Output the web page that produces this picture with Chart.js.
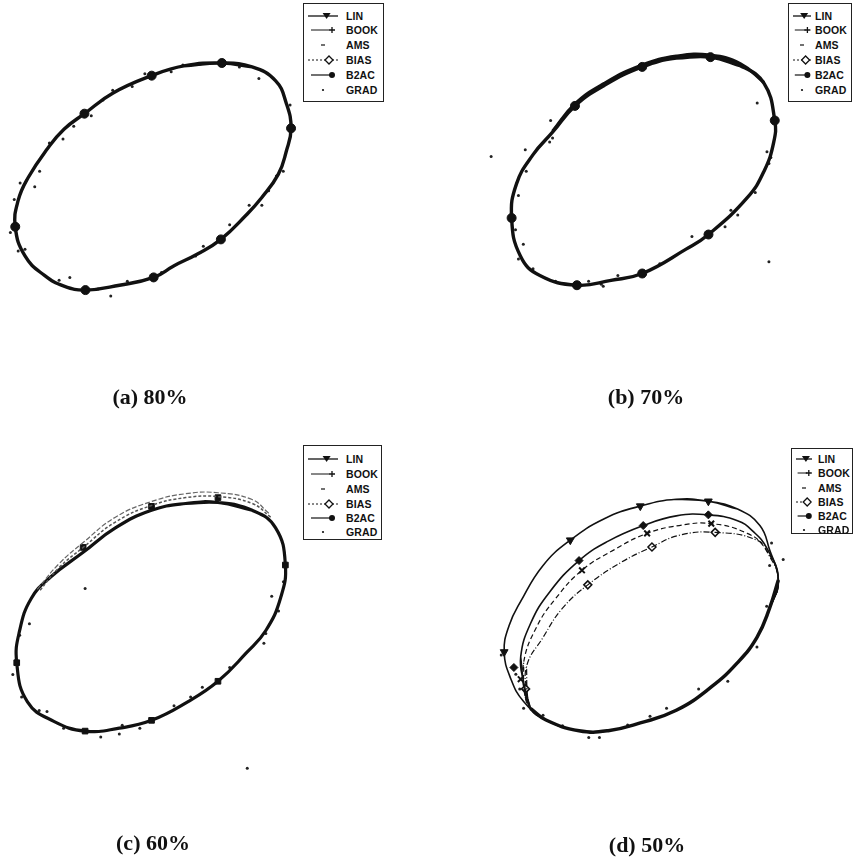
<!DOCTYPE html>
<html><head><meta charset="utf-8">
<script src="https://cdn.jsdelivr.net/npm/chart.js@4"></script>
<style>
html,body{margin:0;padding:0;background:#fff;}
#wrap{position:relative;width:867px;height:867px;overflow:hidden;background:#fff;}
canvas.p{position:absolute;}
.cap{position:absolute;font-family:"Liberation Serif","DejaVu Serif",serif;font-weight:bold;font-size:22px;line-height:22px;color:#111;transform:translateX(-50%);white-space:nowrap;}
.leg{position:absolute;border:1px solid #222;background:#fff;z-index:5;}
.leg .it{position:absolute;left:0;height:12px;}
.leg .it span{position:absolute;font-family:"Liberation Sans",Arial,sans-serif;font-weight:bold;font-size:10.5px;line-height:12px;color:#111;letter-spacing:0.1px;}
.leg svg{position:absolute;top:0;}
</style></head><body><div id="wrap"></div>
<script>
// ---------------- DATA (figure units: x right, y down) ----------------
const seriesNames = ["LIN","BOOK","AMS","BIAS","B2AC","GRAD"];
const captions = ["(a) 80%","(b) 70%","(c) 60%","(d) 50%"];

// (a) 80% : all six fits coincide
const a_fitX = [222,253,277,288,293,288,280,263,247,221,197,173,152,117,82,60,40,20,10,13,23,43,60,81,110,150,183,222];
const a_fitY = [59,63,77,100,126,150,173,197,215,240,255,267,279,287,292,288,277,257,227,200,177,147,127,111,90,72,62,59];
const a_markX = [222,293,221,152,82,10,81,150];
const a_markY = [59,126,240,279,292,227,111,72];
const a_ptsX = [88,59,35,15,9,5,13,66,108,203,263,270,278,292,143,182,110,45,70,100,130,170,200,240,260,285,30,20,55,95,125,160,195,230,250];
const a_ptsY = [113,137,170,182,199,233,252,279,298,247,205,190,175,102,70,61,87,141,124,97,83,68,60,63,75,170,186,250,282,291,283,274,257,225,205];

// (b) 70%
const b_fitX = [712,743,767,778,777,767,750,710,687,642,610,575,537,517,508,513,530,550,573,603,642,677,712];
const b_fitY = [53,62,80,118,140,170,197,235,250,275,282,287,277,257,218,183,153,130,103,82,63,54,53];
const b_fit2X = [550,573,603,642,677,712,743,767];
const b_fit2Y = [129,101,80,61,52,51,60,79];
const b_markX = [712,778,710,642,575,508,573,642];
const b_markY = [53,118,235,275,287,218,103,63];
const b_ptsX = [548,522,487,547,550,515,523,515,587,602,617,693,727,733,758,772,774,772,553,760,520,530,600,660,740,770,512];
const b_ptsY = [118,148,155,140,136,195,170,260,283,288,277,237,227,210,192,162,156,263,283,100,245,270,286,265,215,150,230];

// (c) 60%
const c_fitX = [218,253,277,287,282,267,247,218,187,150,117,82,50,23,12,15,27,47,80,113,150,185,218];
const c_fitY = [499,507,525,563,597,630,653,682,703,722,730,733,723,703,663,630,597,575,550,525,507,500,499];
const c_out1X = [272,253,218,185,150,113,80,55,35];
const c_out1Y = [514,500,493,494,502,519,545,566,590];
const c_out2X = [270,253,218,185,150,113,80,55,33];
const c_out2Y = [510,496,489,490,498,514,540,562,588];
const c_markX = [218,150,80,287,218,150,82,12];
const c_markY = [494,503,545,563,682,722,733,663];
const c_ptsX = [82,273,267,265,202,173,98,117,138,43,17,8,25,15,248,230,190,120,60,35,280,285];
const c_ptsY = [587,595,633,643,688,707,739,736,730,713,698,675,623,635,771,668,698,727,730,712,610,580];

// (d) 50% : four distinct fits on top, shared lower arc
const d_lowX = [782,773,760,740,713,677,640,607,577,543,527];
const d_lowY = [578,607,637,663,688,712,725,733,733,722,710];
const d1X = [710,740,763,773,782,773,760,740,713,677,640,607,577,543,520,507,500,505,517,540,568,603,640,677,710];
const d1Y = [497,505,522,547,578,607,637,663,688,712,725,733,733,722,703,680,652,625,600,563,537,515,502,495,497];
const d2TopX = [520,517,527,547,577,607,643,677,710,740,756,770];
const d2TopY = [683,657,623,590,558,538,522,512,511,517,528,545];
const d3TopX = [521,520,533,553,580,613,647,680,713,750,768];
const d3TopY = [695,663,627,597,568,547,530,522,520,530,545];
const d4TopX = [524,523,540,560,586,620,652,680,717,760,772];
const d4TopY = [697,667,637,607,583,560,544,532,529,537,552];
const d1MarkX = [710,640,568,500], d1MarkY = [497,502,537,652];
const d2MarkX = [710,643,577,510], d2MarkY = [511,522,558,668];
const d3MarkX = [713,647,580,517], d3MarkY = [520,530,568,680];
const d4MarkX = [717,652,586,522], d4MarkY = [529,544,583,690];
const d_ptsX = [787,773,770,760,730,667,627,587,598,540,520,497,512,516,775,700,650,560,780];
const d_ptsY = [557,563,605,647,682,710,727,740,740,717,710,655,675,690,540,690,718,728,590];

// ---------------- helpers ----------------
const zip = (xs, ys) => xs.map((x, i) => ({x, y: ys[i]}));
// closed loop: repeat a neighbour at each end so the spline has no kink at the seam
const loop = (xs, ys) => { const p = zip(xs, ys); const n = p.length; return [p[n-2]].concat(p, [p[1]]); };
const dLoop = (topX, topY) => loop(topX.concat(d_lowX, [topX[0]]), topY.concat(d_lowY, [topY[0]]));
const wrap = document.getElementById('wrap');
const PW = 433;

function line(data, opt){ return Object.assign({data, showLine:true, fill:false, pointRadius:0, tension:0.45, borderColor:'#111', borderWidth:1.2, clip:false}, opt); }
function marks(data, style, r, opt){ return Object.assign({data, showLine:false, pointStyle:style, pointRadius:r, backgroundColor:'#111', borderColor:'#111', borderWidth:1, clip:false}, opt||{}); }
function pts(data){ return {data, showLine:false, pointRadius:1.5, backgroundColor:'#222', borderWidth:0, clip:false}; }

function panel(x0, y0, datasets){
  const c = document.createElement('canvas');
  c.className='p'; c.width=PW; c.height=PW;
  c.style.left=x0+'px'; c.style.top=y0+'px';
  wrap.appendChild(c);
  new Chart(c, {type:'scatter', data:{datasets},
    options:{responsive:false, animation:false, events:[],
      layout:{padding:0},
      plugins:{legend:{display:false}, tooltip:{enabled:false}},
      scales:{x:{type:'linear', display:false, min:x0, max:x0+PW},
              y:{type:'linear', display:false, min:y0, max:y0+PW, reverse:true}}}});
}

// (a)
const aFit = loop(a_fitX, a_fitY);
panel(0, 0, [
  line(aFit, {label:'LIN', borderWidth:3.4}),
  line(aFit, {label:'BOOK', borderWidth:1.5, borderColor:'#000'}),
  line(aFit, {label:'BIAS', borderDash:[4,2]}),
  marks(zip(a_markX, a_markY), 'circle', 4.5),
  pts(zip(a_ptsX, a_ptsY))
]);
// (b)
const bFit = loop(b_fitX, b_fitY);
panel(434, 0, [
  line(bFit, {label:'LIN', borderWidth:3.4}),
  line(zip(b_fit2X, b_fit2Y), {label:'BOOK', borderWidth:3.2}),
  line(bFit, {label:'BIAS', borderDash:[4,2]}),
  marks(zip(b_markX, b_markY), 'circle', 4.5),
  pts(zip(b_ptsX, b_ptsY))
]);
// (c)
panel(0, 434, [
  line(zip(c_out2X, c_out2Y), {label:'BOOK', borderColor:'#666', borderWidth:1.2, borderDash:[5,2]}),
  line(zip(c_out1X, c_out1Y), {label:'BIAS', borderColor:'#555', borderWidth:1.5, borderDash:[3,2]}),
  line(loop(c_fitX, c_fitY), {label:'LIN', borderWidth:3.2}),
  marks(zip(c_markX, c_markY), 'rect', 4),
  pts(zip(c_ptsX, c_ptsY))
]);
// (d)
panel(434, 434, [
  line(loop(d1X, d1Y), {label:'LIN', borderWidth:1.6}),
  line(dLoop(d2TopX, d2TopY), {label:'BOOK', borderWidth:1.6}),
  line(dLoop(d3TopX, d3TopY), {label:'BIAS', borderWidth:1.2, borderDash:[5,3]}),
  line(dLoop(d4TopX, d4TopY), {label:'B2AC', borderWidth:1.2, borderDash:[6,2,1,2]}),
  line(zip(d_lowX, d_lowY), {label:'low', borderWidth:3.5}),
  marks(zip(d1MarkX, d1MarkY), 'triangle', 4.5, {rotation:180}),
  marks(zip(d2MarkX, d2MarkY), 'rectRot', 4),
  marks(zip(d3MarkX, d3MarkY), 'crossRot', 4, {borderWidth:2}),
  marks(zip(d4MarkX, d4MarkY), 'rectRot', 4, {backgroundColor:'#fff', borderWidth:1.5}),
  pts(zip(d_ptsX, d_ptsY))
]);

// ---------------- legends ----------------
const sampleSvg = {
  LIN:  w => `<line x1="0" y1="6" x2="${w}" y2="6" stroke="#111" stroke-width="1.3"/><path d="M${w*0.62-4} 3 L${w*0.62+4} 3 L${w*0.62} 9 Z" fill="#111"/>`,
  BOOK: w => `<line x1="${w*0.1}" y1="6" x2="${w*0.7}" y2="6" stroke="#111" stroke-width="1"/><path d="M${w*0.8-3} 6 L${w*0.8+3} 6 M${w*0.8} 3 L${w*0.8} 9" stroke="#111" stroke-width="1.3"/>`,
  AMS:  w => `<line x1="${w*0.5-2}" y1="6" x2="${w*0.5+2}" y2="6" stroke="#111" stroke-width="1.2"/>`,
  BIAS: w => `<line x1="0" y1="6" x2="${w}" y2="6" stroke="#111" stroke-width="1" stroke-dasharray="2,2"/><path d="M${w*0.7} 2 L${w*0.7+4} 6 L${w*0.7} 10 L${w*0.7-4} 6 Z" fill="#fff" stroke="#111" stroke-width="1.3"/>`,
  B2AC: w => `<line x1="${w*0.1}" y1="6" x2="${w*0.8}" y2="6" stroke="#111" stroke-width="1.2"/><circle cx="${w*0.8}" cy="6" r="3" fill="#111"/>`,
  GRAD: w => `<circle cx="${w*0.5}" cy="6" r="1.1" fill="#111"/>`
};
function legend(left, top, width, height, itemTops, sampleW, textLeft){
  const d = document.createElement('div');
  d.className='leg';
  Object.assign(d.style, {left:left+'px', top:top+'px', width:width+'px', height:height+'px'});
  seriesNames.forEach((n, i) => {
    const it = document.createElement('div');
    it.className='it';
    it.style.top = (itemTops[i]-top-6)+'px';
    it.style.width = width+'px';
    it.innerHTML = `<svg width="${sampleW}" height="12" style="left:4px">${sampleSvg[n](sampleW)}</svg><span style="left:${textLeft}px">${n}</span>`;
    d.appendChild(it);
  });
  wrap.appendChild(d);
}
legend(303, 3, 79, 97, [15,29,44,59,74,89], 30, 42);
legend(788, 3, 62, 97, [15,29,44,59,74,89], 18, 26);
legend(303, 445, 77, 93, [458,473,488,503,517,531], 30, 42);
legend(791, 448, 60, 84, [458,472,487,501,515,529], 16, 26);

// ---------------- captions ----------------
[[150,386],[646,386],[153,832],[647,834]].forEach((p, i) => {
  const s = document.createElement('div');
  s.className='cap'; s.textContent = captions[i];
  s.style.left = p[0]+'px'; s.style.top = p[1]+'px';
  wrap.appendChild(s);
});
</script></body></html>
